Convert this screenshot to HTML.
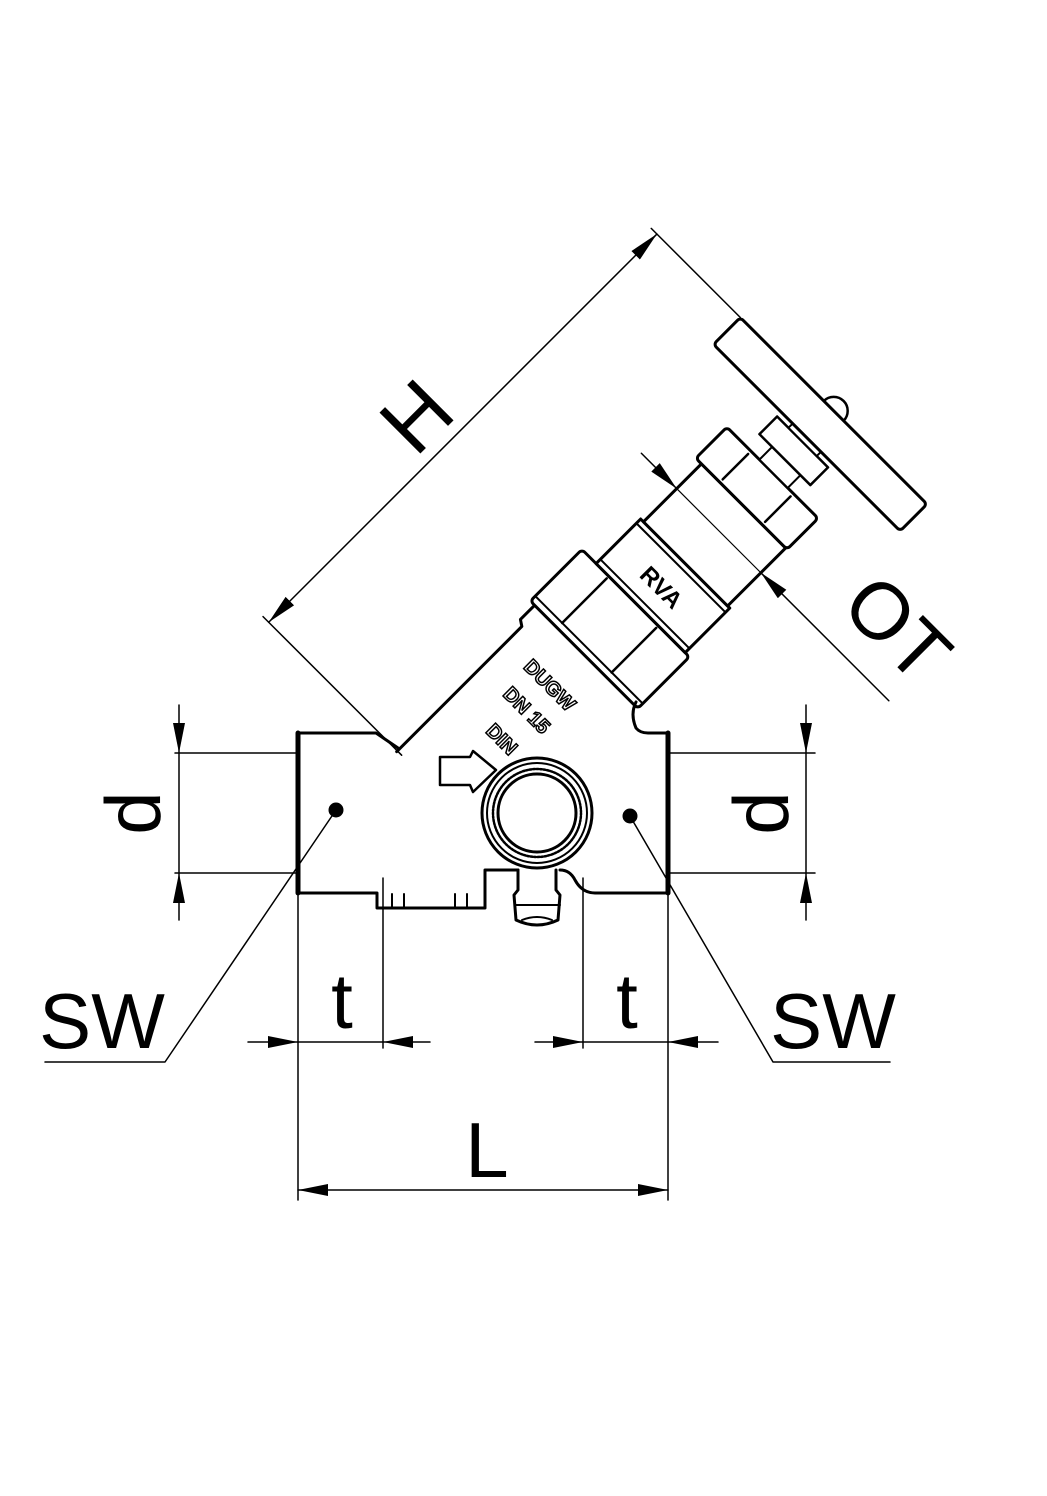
<!DOCTYPE html>
<html><head><meta charset="utf-8"><style>
html,body{margin:0;padding:0;background:#fff}
svg{display:block}
text{font-family:"Liberation Sans",sans-serif}
</style></head><body>
<svg width="1047" height="1496" viewBox="0 0 1047 1496" xmlns="http://www.w3.org/2000/svg">
<defs>
<marker id="ar" markerWidth="30" markerHeight="12" refX="30" refY="6" orient="auto-start-reverse" markerUnits="userSpaceOnUse" viewBox="0 0 30 12">
<path d="M0,0 L30,6 L0,12 z" fill="#000"/></marker>
</defs>
<g fill="none" stroke="#000" stroke-linecap="round" stroke-linejoin="round">

<g transform="rotate(-45)">
  <path d="M-251,812 L-74,812 L-70,806 L-50,806" stroke-width="3"/>
  <rect x="-50" y="800" width="73" height="152" rx="4" fill="#fff" stroke-width="3"/>
  <line x1="-43" y1="800" x2="-43" y2="952" stroke-width="2"/>
  <line x1="-43" y1="838" x2="20" y2="838" stroke-width="2.5"/>
  <line x1="-43" y1="908" x2="20" y2="908" stroke-width="2.5"/>
  <rect x="23" y="820" width="63" height="126" fill="#fff" stroke-width="3"/>
  <line x1="29" y1="820" x2="29" y2="946" stroke-width="2"/>
  <line x1="80" y1="820" x2="80" y2="946" stroke-width="2"/>
  <text x="0" y="0" transform="translate(44,883) rotate(90)" text-anchor="middle" font-size="24" font-weight="bold" fill="#000" stroke="none">RVA</text>
  <rect x="86" y="824" width="82" height="119" fill="#fff" stroke-width="3"/>
  <rect x="168" y="816" width="44" height="129" rx="4" fill="#fff" stroke-width="3"/>
  <line x1="172" y1="850" x2="208" y2="850" stroke-width="2.5"/>
  <line x1="172" y1="910" x2="208" y2="910" stroke-width="2.5"/>
  <rect x="212" y="862" width="18" height="40" fill="#fff" stroke-width="2"/>
  <rect x="230" y="844" width="25" height="72" fill="#fff" stroke-width="2.5"/>
  <rect x="255" y="860" width="6" height="40" fill="#fff" stroke-width="2"/>
  <path d="M299,866 A14,14 0 0 1 299,894" stroke-width="2.5"/>
  <rect x="261" y="748" width="38" height="264" rx="4" fill="#fff" stroke-width="3"/>
  <line x1="-250" y1="630" x2="299" y2="630" stroke-width="1.5" marker-start="url(#ar)" marker-end="url(#ar)"/>
  <line x1="-250" y1="622" x2="-250" y2="818" stroke-width="1.5"/>
  <line x1="299" y1="622" x2="299" y2="748" stroke-width="1.5"/>
  <text x="0" y="0" transform="translate(0,618)" text-anchor="middle" font-size="84" fill="#000" stroke="none">H</text>
  <line x1="133" y1="774" x2="133" y2="824" stroke-width="1.5" marker-end="url(#ar)"/>
  <line x1="133" y1="1124" x2="133" y2="943" stroke-width="1.5" marker-end="url(#ar)"/>
  <line x1="133" y1="824" x2="133" y2="943" stroke-width="1.2"/>
</g>
<text x="0" y="0" transform="translate(893,633) rotate(45)" text-anchor="middle" font-size="80" fill="#000" stroke="none" dominant-baseline="middle">OT</text>

<path d="M298,733 L376,733 L398,748" stroke-width="3"/>
<path d="M636,702 Q630,714 636,728 Q640,733 648,733 L668,733" stroke-width="3"/>
<line x1="298" y1="733" x2="298" y2="893" stroke-width="5"/>
<line x1="668" y1="733" x2="668" y2="893" stroke-width="5"/>
<path d="M298,893 L377,893 L377,908 L485,908 L485,893" stroke-width="3"/>
<line x1="392" y1="894" x2="392" y2="908" stroke-width="2"/>
<line x1="404" y1="894" x2="404" y2="908" stroke-width="2"/>
<line x1="455" y1="894" x2="455" y2="908" stroke-width="2"/>
<line x1="467" y1="894" x2="467" y2="908" stroke-width="2"/>
<path d="M485,893 L485,870 L518,870" stroke-width="3"/>
<path d="M560,870 Q570,870 575,880 Q582,893 595,893 L668,893" stroke-width="3"/>
<path d="M518,870 L518,890 L514,895 L516,920 Q537,930 558,920 L560,895 L556,890 L556,870" stroke-width="3"/>
<line x1="516" y1="905" x2="560" y2="905" stroke-width="2"/>
<path d="M522,920 Q537,914 552,920" stroke-width="2"/>
<circle cx="537" cy="813" r="55" stroke-width="3"/>
<circle cx="537" cy="813" r="50" stroke-width="2"/>
<circle cx="537" cy="813" r="44" stroke-width="2.5" stroke-dasharray="2 1.5"/>
<circle cx="537" cy="813" r="39" stroke-width="3"/>
<path d="M440,757 L470,757 L473,751 L496,770 L473,792 L470,785 L440,785 Z" stroke-width="2.5"/>
<circle cx="336" cy="810" r="7" fill="#000"/>
<circle cx="630" cy="816" r="7" fill="#000"/>
<polyline points="336,810 165,1062 45,1062" stroke-width="1.5"/>
<polyline points="630,816 773,1062 890,1062" stroke-width="1.5"/>

<line x1="175" y1="753" x2="298" y2="753" stroke-width="1.5"/>
<line x1="175" y1="873" x2="298" y2="873" stroke-width="1.5"/>
<line x1="668" y1="753" x2="815" y2="753" stroke-width="1.5"/>
<line x1="668" y1="873" x2="815" y2="873" stroke-width="1.5"/>
<line x1="179" y1="705" x2="179" y2="753" stroke-width="1.5" marker-end="url(#ar)"/>
<line x1="179" y1="920" x2="179" y2="873" stroke-width="1.5" marker-end="url(#ar)"/>
<line x1="179" y1="753" x2="179" y2="873" stroke-width="1.5"/>
<line x1="806" y1="705" x2="806" y2="753" stroke-width="1.5" marker-end="url(#ar)"/>
<line x1="806" y1="920" x2="806" y2="873" stroke-width="1.5" marker-end="url(#ar)"/>
<line x1="806" y1="753" x2="806" y2="873" stroke-width="1.5"/>

<line x1="298" y1="893" x2="298" y2="1200" stroke-width="1.5"/>
<line x1="383" y1="878" x2="383" y2="1048" stroke-width="1.5"/>
<line x1="583" y1="878" x2="583" y2="1048" stroke-width="1.5"/>
<line x1="668" y1="893" x2="668" y2="1200" stroke-width="1.5"/>
<line x1="248" y1="1042" x2="298" y2="1042" stroke-width="1.5" marker-end="url(#ar)"/>
<line x1="430" y1="1042" x2="383" y2="1042" stroke-width="1.5" marker-end="url(#ar)"/>
<line x1="298" y1="1042" x2="383" y2="1042" stroke-width="1.5"/>
<line x1="535" y1="1042" x2="583" y2="1042" stroke-width="1.5" marker-end="url(#ar)"/>
<line x1="718" y1="1042" x2="668" y2="1042" stroke-width="1.5" marker-end="url(#ar)"/>
<line x1="583" y1="1042" x2="668" y2="1042" stroke-width="1.5"/>
<line x1="298" y1="1190" x2="668" y2="1190" stroke-width="1.5" marker-start="url(#ar)" marker-end="url(#ar)"/>
</g>

<g fill="#000" font-size="78">
<text x="0" y="0" transform="translate(160,813) rotate(-90)" text-anchor="middle">d</text>
<text x="0" y="0" transform="translate(788,813) rotate(-90)" text-anchor="middle">d</text>
<text x="102" y="1048" text-anchor="middle">SW</text>
<text x="833" y="1048" text-anchor="middle">SW</text>
<text x="342" y="1028" text-anchor="middle">t</text>
<text x="627" y="1028" text-anchor="middle">t</text>
<text x="487" y="1177" text-anchor="middle">L</text>
</g>
<g font-size="20" font-weight="bold" fill="#fff" stroke="#000" stroke-width="1.5" font-family="Liberation Sans">
<text x="0" y="0" transform="translate(545,690) rotate(45)" text-anchor="middle">DUGW</text>
<text x="0" y="0" transform="translate(522,715) rotate(45)" text-anchor="middle">DN 15</text>
<text x="0" y="0" transform="translate(497,744) rotate(45)" text-anchor="middle">DIN</text>
</g>
</svg>
</body></html>
